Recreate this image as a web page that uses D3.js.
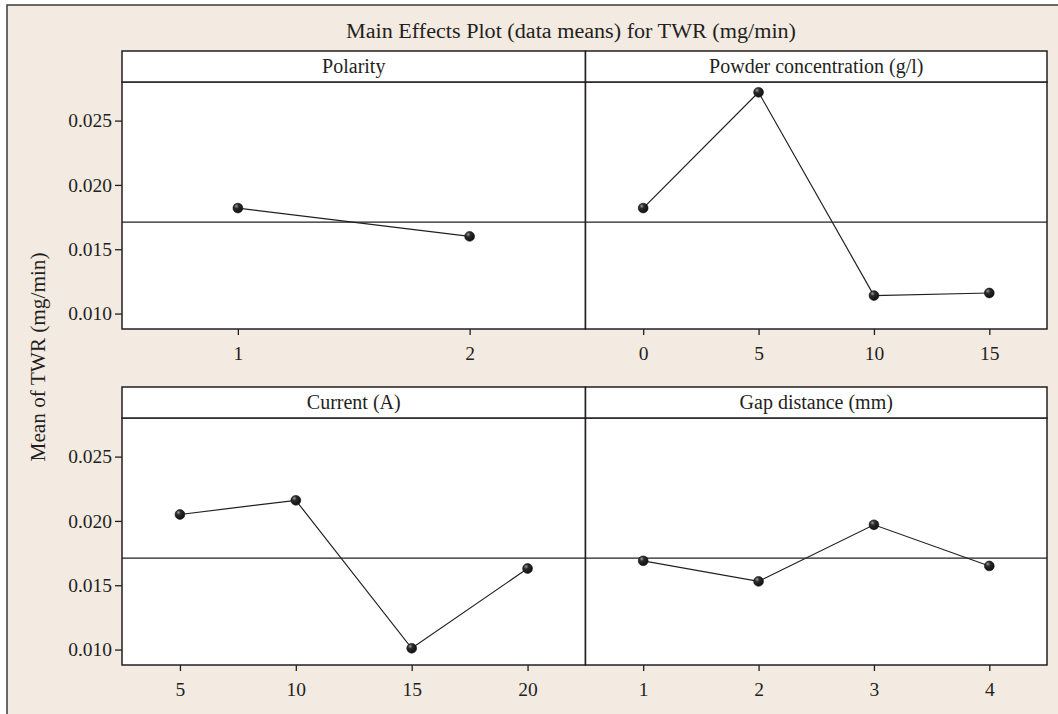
<!DOCTYPE html>
<html>
<head>
<meta charset="utf-8">
<script src="https://cdn.jsdelivr.net/npm/d3@7"></script>
<style>
  html, body {margin:0; padding:0; background:#fff;}
  svg {display:block;}
  text {font-family:"Liberation Serif","DejaVu Serif",serif; fill:#231f20;}
</style>
</head>
<body>
<svg id="chart" width="1058" height="714"></svg>
<script>
// data
var chartTitle = "Main Effects Plot (data means) for TWR (mg/min)";
var yLabel = "Mean of TWR (mg/min)";
var factors = ["Polarity", "Powder concentration (g/l)", "Current (A)", "Gap distance (mm)"];
var polarityLevels = ["1", "2"];
var polarityMeans = [0.0182, 0.0160];
var powderLevels = ["0", "5", "10", "15"];
var powderMeans = [0.0182, 0.0272, 0.0114, 0.0116];
var currentLevels = ["5", "10", "15", "20"];
var currentMeans = [0.0205, 0.0216, 0.0101, 0.0163];
var gapLevels = ["1", "2", "3", "4"];
var gapMeans = [0.0169, 0.0153, 0.0197, 0.0165];
var grandMean = 0.0171;
var yTicks = [0.010, 0.015, 0.020, 0.025];

var panels = [
  {name:factors[0], levels:polarityLevels, means:polarityMeans, col:0, row:0},
  {name:factors[1], levels:powderLevels, means:powderMeans, col:1, row:0},
  {name:factors[2], levels:currentLevels, means:currentMeans, col:0, row:1},
  {name:factors[3], levels:gapLevels, means:gapMeans, col:1, row:1}
];

var ink = "#231f20";
var colX = [122, 585.5, 1047];
var rowTop = [51, 387];
var headH = 31, plotH = 247;

var svg = d3.select("#chart");

// marker gradient (glossy dot)
var grad = svg.append("defs").append("radialGradient")
  .attr("id", "dot").attr("cx", "35%").attr("cy", "30%").attr("r", "70%");
grad.append("stop").attr("offset", "0%").attr("stop-color", "#9a9a9a");
grad.append("stop").attr("offset", "35%").attr("stop-color", "#2a2a2a");
grad.append("stop").attr("offset", "100%").attr("stop-color", "#111");

// background + outer frame
svg.append("rect").attr("x", 7).attr("y", 5).attr("width", 1080).attr("height", 740)
  .attr("fill", "#f3eae1").attr("stroke", "#3a3a3a").attr("stroke-width", 1.5);

svg.append("text").attr("x", 571).attr("y", 38).attr("text-anchor", "middle")
  .style("font-size", "20px").attr("textLength", 450).attr("lengthAdjust", "spacingAndGlyphs")
  .text(chartTitle);

svg.append("text").attr("transform", "translate(45,357) rotate(-90)")
  .attr("text-anchor", "middle").style("font-size", "20.5px")
  .attr("textLength", 209).attr("lengthAdjust", "spacingAndGlyphs").text(yLabel);

var y = d3.scaleLinear().domain([0.0088, 0.0280]).range([plotH, 0]);
var line = d3.line();

panels.forEach(function(p){
  var x0 = colX[p.col], x1 = colX[p.col+1];
  var top = rowTop[p.row];
  var x = d3.scalePoint().domain(p.levels).range([0, x1-x0]).padding(0.5);

  var g = svg.append("g").attr("transform", "translate(" + x0 + "," + (top+headH) + ")");

  // header strip
  svg.append("rect").attr("x", x0).attr("y", top).attr("width", x1-x0).attr("height", headH)
    .attr("fill", "#fff").attr("stroke", ink).attr("stroke-width", 1.5);
  svg.append("text").attr("x", (x0+x1)/2).attr("y", top+22).attr("text-anchor", "middle")
    .style("font-size", "20px").text(p.name);

  // plot area
  g.append("rect").attr("width", x1-x0).attr("height", plotH)
    .attr("fill", "#fff").attr("stroke", ink).attr("stroke-width", 1.5);

  // grand mean reference line
  g.append("line").attr("x1", 0).attr("x2", x1-x0)
    .attr("y1", y(grandMean)).attr("y2", y(grandMean))
    .attr("stroke", ink).attr("stroke-width", 1.3);

  g.append("path")
    .attr("d", line(p.levels.map(function(d,i){ return [x(d), y(p.means[i])]; })))
    .attr("fill", "none").attr("stroke", ink).attr("stroke-width", 1.2);

  g.selectAll("circle").data(p.means).enter().append("circle")
    .attr("cx", function(d,i){ return x(p.levels[i]); })
    .attr("cy", function(d){ return y(d); })
    .attr("r", 4.9).attr("fill", "url(#dot)").attr("stroke", "#111").attr("stroke-width", 0.6);

  // x axis
  var xa = g.append("g").attr("transform", "translate(0," + plotH + ")")
    .call(d3.axisBottom(x).tickSize(6).tickPadding(11.5));
  xa.select(".domain").remove();
  xa.selectAll("line").attr("stroke", ink).attr("stroke-width", 1.3);
  xa.selectAll("text").style("font-size", "19.5px").attr("fill", ink);

  // y axis on left column only
  if (p.col == 0) {
    var ya = g.append("g")
      .call(d3.axisLeft(y).tickValues(yTicks).tickFormat(d3.format(".3f")).tickSize(7).tickPadding(3));
    ya.select(".domain").remove();
    ya.selectAll("line").attr("stroke", ink).attr("stroke-width", 1.3);
    ya.selectAll("text").style("font-size", "19.5px").attr("fill", ink);
  }
});
</script>
</body>
</html>
